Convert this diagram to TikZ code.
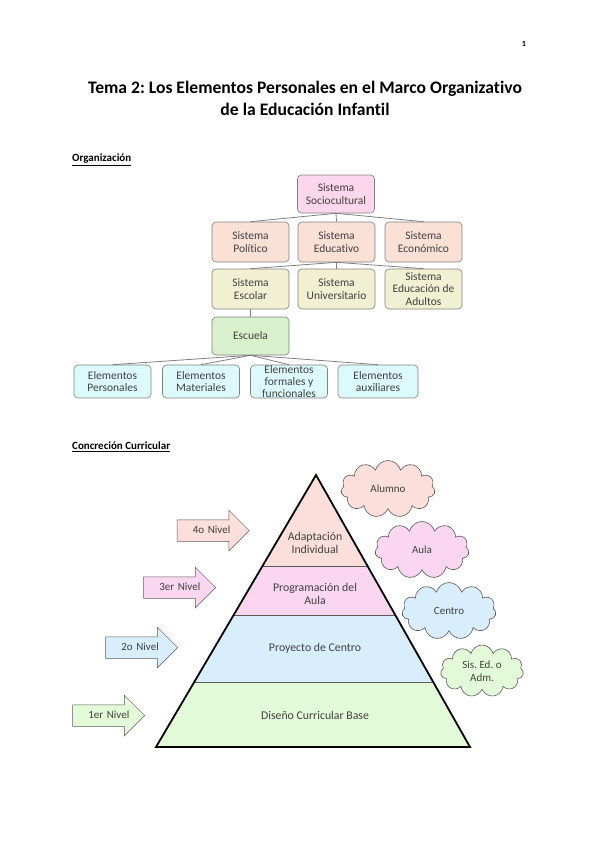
\documentclass[tikz,border=0pt]{standalone}
\usepackage{fontspec}
\setmainfont{Carlito}[Ligatures=NoCommon]
\usepackage{tikz}
\usetikzlibrary{shapes.arrows, shapes.symbols, calc}
\frenchspacing
\definecolor{txtgray}{RGB}{64,64,64}
\definecolor{boxgray}{RGB}{128,128,128}
\definecolor{arrgray}{RGB}{90,90,90}
\definecolor{fillpink}{RGB}{252,214,236}
\definecolor{fillpeach}{RGB}{251,224,214}
\definecolor{fillbeige}{RGB}{242,240,210}
\definecolor{fillgreen}{RGB}{217,240,205}
\definecolor{fillcyan}{RGB}{220,250,252}
\definecolor{pypeach}{RGB}{252,222,218}
\definecolor{pypink}{RGB}{250,214,240}
\definecolor{pyblue}{RGB}{216,238,252}
\definecolor{pygreen}{RGB}{226,250,216}
\tikzset{
  orgbox/.style={rectangle, draw=boxgray, rounded corners=4pt,
    minimum width=77pt, minimum height=40pt, inner sep=1pt,
    align=center, text=txtgray, font=\fontsize{11.5}{12.5}\selectfont, line width=0.6pt},
  conn/.style={draw=boxgray, line width=0.8pt},
  nivel/.style={single arrow, draw=arrgray, line width=0.5pt,
    single arrow head extend=9.5pt, minimum height=72pt,
    text width=30pt, inner xsep=8pt,
    text height=7.5pt, text depth=2pt, inner ysep=5.75pt,
    text=txtgray, font=\fontsize{11}{13}\selectfont, anchor=tip},
  nube/.style={cloud, cloud puffs=11, cloud ignores aspect, draw=arrgray, line width=0.6pt,
    minimum width=94pt, minimum height=57pt, align=center,
    text=txtgray, font=\fontsize{11}{13}\selectfont},
  capa/.style={align=center, text=txtgray, font=\fontsize{11.8}{13.5}\selectfont},
  heading/.style={anchor=base west, inner sep=0pt, font=\fontsize{11}{13}\selectfont\bfseries}
}
\begin{document}
\begin{tikzpicture}[x=1pt, y=-1pt]
  \useasboundingbox (0,0) rectangle (600,848);

  % Cabecera
  \node[font=\fontsize{8}{9}\selectfont\bfseries] (pag) at (524,44) {1};
  \node[align=center, font=\fontsize{17.6}{22}\selectfont\bfseries] (titulo) at (305,98)
    {Tema 2: Los Elementos Personales en el Marco Organizativo\\de la Educación Infantil};
  \node[heading] (org) at (72,161.5) {\underline{Organización}};

  % Organigrama
  \node[orgbox, fill=fillpink, minimum height=38pt] (soc) at (336,194) {Sistema\\Sociocultural};
  \node[orgbox, fill=fillpeach] (pol) at (250.5,242) {Sistema\\Político};
  \node[orgbox, fill=fillpeach] (edu) at (336.5,242) {Sistema\\Educativo};
  \node[orgbox, fill=fillpeach] (eco) at (423.5,242) {Sistema\\Económico};
  \node[orgbox, fill=fillbeige] (esc) at (250.5,289) {Sistema\\Escolar};
  \node[orgbox, fill=fillbeige] (uni) at (336.5,289) {Sistema\\Universitario};
  \node[orgbox, fill=fillbeige] (adu) at (423.5,289) {Sistema\\Educación de\\Adultos};
  \node[orgbox, fill=fillgreen, minimum height=38pt] (escuela) at (250.5,336) {Escuela};
  \node[orgbox, fill=fillcyan, minimum height=33pt, inner ysep=0pt] (per) at (112.5,381.5) {Elementos\\Personales};
  \node[orgbox, fill=fillcyan, minimum height=33pt, inner ysep=0pt] (mat) at (201,381.5) {Elementos\\Materiales};
  \node[orgbox, fill=fillcyan, minimum height=33pt, inner ysep=0pt,
    font=\fontsize{11.5}{12}\selectfont] (form) at (289,381.5) {Elementos\\formales y\\funcionales};
  \node[orgbox, fill=fillcyan, minimum height=33pt, minimum width=80pt, inner ysep=0pt] (aux) at (378,381.5) {Elementos\\auxiliares};

  \draw[conn] (soc.south) -- (pol.north);
  \draw[conn] (soc.south) -- (edu.north);
  \draw[conn] (soc.south) -- (eco.north);
  \draw[conn] (edu.south) -- (esc.north);
  \draw[conn] (edu.south) -- (uni.north);
  \draw[conn] (edu.south) -- (adu.north);
  \draw[conn] (esc.south) -- (escuela.north);
  \draw[conn] (escuela.south) -- (per.north);
  \draw[conn] (escuela.south) -- (mat.north);
  \draw[conn] (escuela.south) -- (form.north);
  \draw[conn] (escuela.south) -- (aux.north);

  \node[heading] (conc) at (72,449.5) {\underline{Concreción Curricular}};

  % Piramide
  \coordinate (apex) at (316,475);
  \coordinate (bl) at (156,747);
  \coordinate (br) at (470,747);
  \coordinate (l1) at ($(apex)!0.337!(bl)$);
  \coordinate (r1) at ($(apex)!0.337!(br)$);
  \coordinate (l2) at ($(apex)!0.517!(bl)$);
  \coordinate (r2) at ($(apex)!0.517!(br)$);
  \coordinate (l3) at ($(apex)!0.762!(bl)$);
  \coordinate (r3) at ($(apex)!0.762!(br)$);
  \fill[pypeach] (apex) -- (l1) -- (r1) -- cycle;
  \fill[pypink] (l1) -- (l2) -- (r2) -- (r1) -- cycle;
  \fill[pyblue] (l2) -- (l3) -- (r3) -- (r2) -- cycle;
  \fill[pygreen] (l3) -- (bl) -- (br) -- (r3) -- cycle;
  \draw[arrgray, line width=0.7pt] (l1) -- (r1) (l2) -- (r2) (l3) -- (r3);
  \draw[line width=1.8pt] (apex) -- (bl) -- (br) -- cycle;

  \node[capa] (adap) at (315,543) {Adaptación\\Individual};
  \node[capa] (prog) at (315,594) {Programación del\\Aula};
  \node[capa] (proy) at (315,648) {Proyecto de Centro};
  \node[capa] (dis) at (315,715) {Diseño Curricular Base};

  % Niveles
  \node[nivel, fill=pypeach] (n4) at (249.5,530.5) {\mbox{4o Nivel}};
  \node[nivel, fill=pypink] (n3) at (216,587.5) {\mbox{3er Nivel}};
  \node[nivel, fill=pyblue] (n2) at (178,647.5) {\mbox{2o Nivel}};
  \node[nivel, fill=pygreen] (n1) at (145,715.5) {\mbox{1er Nivel}};

  % Nubes
  \node[nube, fill=pypeach] (alumno) at (388,489) {Alumno};
  \node[nube, fill=pypink] (aula) at (422,550) {Aula};
  \node[nube, fill=pyblue] (centro) at (449,611) {Centro};
  \node[nube, fill=pygreen, minimum width=83pt, minimum height=52pt] (sis) at (482,671) {Sis. Ed. o\\Adm.};
\end{tikzpicture}
\end{document}
